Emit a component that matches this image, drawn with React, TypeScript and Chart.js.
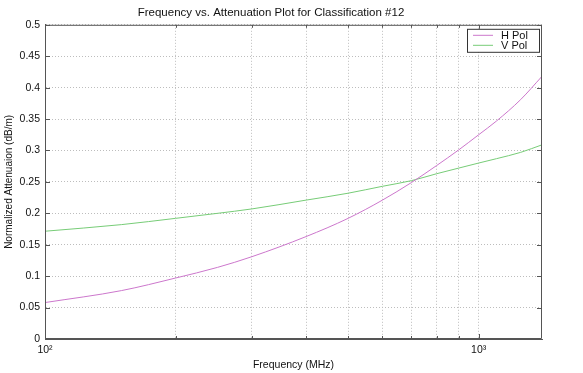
import React, { useEffect, useRef } from "react";
import { Chart, registerables } from "chart.js";

Chart.register(...registerables);

const frequencies = [100, 150, 200, 250, 300, 400, 500, 600, 700, 800, 900, 1000, 1100, 1250, 1400];
const hPol = [0.058, 0.077, 0.097, 0.114, 0.131, 0.163, 0.192, 0.221, 0.249, 0.276, 0.301, 0.325, 0.347, 0.381, 0.418];
const vPol = [0.1715, 0.182, 0.192, 0.2, 0.207, 0.221, 0.232, 0.243, 0.252, 0.263, 0.272, 0.28, 0.287, 0.297, 0.309];
const xTicks = [100, 200, 300, 400, 500, 600, 700, 800, 900, 1000];
const xTickLabels: Record<number, string> = { 100: "10²", 1000: "10³" };
const seriesNames = ["H Pol", "V Pol"];
const seriesColors = ["#cc77cc", "#77cc77"];
const titleText = "Frequency vs. Attenuation Plot for Classification #12";
const xTitle = "Frequency (MHz)";
const yTitle = "Normalized Attenuaion (dB/m)";

const FONT = "'Liberation Sans', Arial, Helvetica, sans-serif";
const AXIS = "#555555";
const GRID = "#bdbdbd";

const framePlugin = {
  id: "frame",
  afterDraw(chart: any) {
    const ctx = chart.ctx;
    const a = chart.chartArea;
    const xs = chart.scales.x;
    const ys = chart.scales.y;
    ctx.save();
    ctx.strokeStyle = AXIS;
    ctx.lineWidth = 1;
    ctx.setLineDash([]);
    ctx.beginPath();
    ctx.rect(a.left + 0.5, a.top + 0.5, a.right - a.left - 1, a.bottom - a.top - 1);
    ctx.stroke();
    // inward ticks
    ctx.beginPath();
    for (const t of ys.ticks) {
      const y = Math.round(ys.getPixelForValue(t.value)) + 0.5;
      ctx.moveTo(a.left, y);
      ctx.lineTo(a.left + 5, y);
      ctx.moveTo(a.right, y);
      ctx.lineTo(a.right - 5, y);
    }
    for (const v of xTicks) {
      const x = Math.round(xs.getPixelForValue(v)) + 0.5;
      const len = xTickLabels[v] ? 5 : 3;
      ctx.moveTo(x, a.bottom);
      ctx.lineTo(x, a.bottom - len);
      ctx.moveTo(x, a.top);
      ctx.lineTo(x, a.top + len);
    }
    ctx.stroke();

    // legend box
    const bx = a.right - 75;
    const by = a.top + 4;
    const bw = 72;
    const bh = 23;
    ctx.fillStyle = "#ffffff";
    ctx.fillRect(bx, by, bw, bh);
    ctx.strokeStyle = "#333333";
    ctx.strokeRect(bx + 0.5, by + 0.5, bw, bh);
    ctx.font = `11px ${FONT}`;
    ctx.textBaseline = "middle";
    ctx.textAlign = "left";
    seriesNames.forEach((name, i) => {
      const ly = by + 6 + i * 10 + 0.5;
      ctx.strokeStyle = seriesColors[i];
      ctx.beginPath();
      ctx.moveTo(bx + 6, ly);
      ctx.lineTo(bx + 26, ly);
      ctx.stroke();
      ctx.fillStyle = "#111111";
      ctx.fillText(name, bx + 34, ly + 1);
    });
    ctx.restore();
  },
};

export default function App() {
  const ref = useRef<HTMLCanvasElement | null>(null);
  useEffect(() => {
    if (!ref.current) return;
    const chart = new Chart(ref.current, {
      type: "line",
      data: {
        datasets: [
          {
            label: seriesNames[0],
            data: frequencies.map((f, i) => ({ x: f, y: hPol[i] })),
            borderColor: seriesColors[0],
            borderWidth: 1,
            pointRadius: 0,
            cubicInterpolationMode: "monotone",
          },
          {
            label: seriesNames[1],
            data: frequencies.map((f, i) => ({ x: f, y: vPol[i] })),
            borderColor: seriesColors[1],
            borderWidth: 1,
            pointRadius: 0,
            cubicInterpolationMode: "monotone",
          },
        ],
      },
      plugins: [framePlugin],
      options: {
        animation: false,
        responsive: false,
        devicePixelRatio: 1,
        layout: { padding: { top: 0, right: 41, bottom: 0, left: 0 } },
        plugins: {
          legend: { display: false },
          tooltip: { enabled: false },
          title: {
            display: true,
            text: titleText,
            color: "#111111",
            font: { family: FONT, size: 11.5, weight: "normal" },
            padding: { top: 6, bottom: 5 },
          },
        },
        scales: {
          x: {
            type: "logarithmic",
            min: 100,
            max: 1400,
            afterBuildTicks: (scale: any) => {
              scale.ticks = xTicks.map((v) => ({ value: v }));
            },
            afterFit: (scale: any) => {
              scale.height = 34;
            },
            grid: {
              color: GRID,
              drawTicks: false,
            },
            border: { display: true, color: AXIS, dash: [1, 2] },
            ticks: {
              autoSkip: false,
              maxRotation: 0,
              padding: 5,
              color: "#111111",
              font: { family: FONT, size: 10.5 },
              callback: (v: any) => xTickLabels[Number(v)] || "",
            },
            title: {
              display: true,
              text: xTitle,
              color: "#111111",
              font: { family: FONT, size: 10.5 },
              padding: { top: 0, bottom: 2 },
            },
          },
          y: {
            min: 0,
            max: 0.5,
            afterFit: (scale: any) => {
              scale.width = 45;
            },
            grid: {
              color: GRID,
              drawTicks: false,
            },
            border: { display: true, color: AXIS, dash: [1, 2] },
            ticks: {
              stepSize: 0.05,
              padding: 5,
              color: "#111111",
              font: { family: FONT, size: 10.5 },
              callback: (v: any) => String(Number(Number(v).toFixed(2))),
            },
            title: {
              display: true,
              text: yTitle,
              color: "#111111",
              font: { family: FONT, size: 10 },
              padding: { top: 3, bottom: 0 },
            },
          },
        },
      } as any,
    });
    return () => chart.destroy();
  }, []);
  return (
    <div style={{ position: "absolute", left: 0, top: 0, width: 583, height: 373, background: "#ffffff" }}>
      <canvas ref={ref} width={583} height={373} />
    </div>
  );
}
